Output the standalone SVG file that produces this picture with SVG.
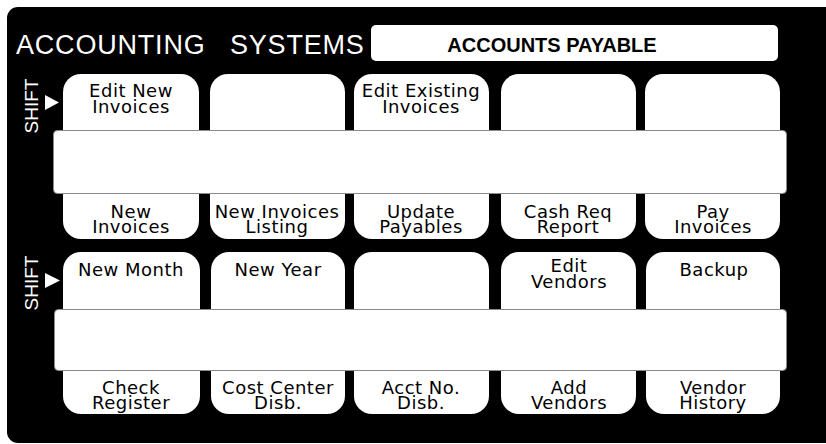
<svg xmlns="http://www.w3.org/2000/svg" width="826" height="444" viewBox="0 0 826 444">
<style>
.key{fill:#fff}
.strip{fill:#fff;stroke:#8a8a8a;stroke-width:1}
.lbl{font-family:"DejaVu Sans","Liberation Sans",sans-serif;font-size:18px;letter-spacing:0.5px;fill:#000;text-anchor:middle}
.shift{font-family:"Liberation Sans","Arial",sans-serif;font-size:19px;fill:#fff;text-anchor:middle}
.arrow{fill:#fff}
</style>
<rect x="0" y="0" width="826" height="444" fill="#fff"/>
<rect x="7" y="7" width="840" height="436" rx="11" fill="#000"/>
<g id="title">
<text x="16" y="54" font-family="'Liberation Sans',Arial,sans-serif" font-size="27" letter-spacing="0.8" fill="#fff"><tspan x="16">ACCOUNTING</tspan> <tspan x="230">SYSTEMS</tspan></text>
</g>
<g id="header">
<rect x="371" y="25" width="407" height="36" rx="5" fill="#fff"/>
<text x="552" y="52" font-family="'Liberation Sans',Arial,sans-serif" font-size="20" font-weight="bold" text-anchor="middle" fill="#000">ACCOUNTS PAYABLE</text>
</g>
<g id="shift1">
<text class="shift" transform="translate(38,106) rotate(-90)">SHIFT</text>
<polygon class="arrow" points="45,95 59,102.5 45,110"/>
</g>
<g id="shift2">
<text class="shift" transform="translate(38,283) rotate(-90)">SHIFT</text>
<polygon class="arrow" points="45,273 60,280.5 45,288"/>
</g>
<g id="key-r1-1"><rect class="key" x="63" y="74" width="136" height="165" rx="18"/>
<text class="lbl"><tspan x="131" y="97">Edit New</tspan><tspan x="131" y="113">Invoices</tspan></text>
<text class="lbl"><tspan x="131" y="218">New</tspan><tspan x="131" y="233">Invoices</tspan></text></g>
<g id="key-r1-2"><rect class="key" x="210" y="74" width="135" height="165" rx="18"/>
<text class="lbl"><tspan x="277" y="218">New Invoices</tspan><tspan x="277" y="233">Listing</tspan></text></g>
<g id="key-r1-3"><rect class="key" x="354" y="74" width="135" height="165" rx="18"/>
<text class="lbl"><tspan x="421" y="97">Edit Existing</tspan><tspan x="421" y="113">Invoices</tspan></text>
<text class="lbl"><tspan x="421" y="218">Update</tspan><tspan x="421" y="233">Payables</tspan></text></g>
<g id="key-r1-4"><rect class="key" x="501" y="74" width="135" height="165" rx="18"/>
<text class="lbl"><tspan x="568" y="218">Cash Req</tspan><tspan x="568" y="233">Report</tspan></text></g>
<g id="key-r1-5"><rect class="key" x="645" y="74" width="135" height="165" rx="18"/>
<text class="lbl"><tspan x="713" y="218">Pay</tspan><tspan x="713" y="233">Invoices</tspan></text></g>
<g id="key-r2-1"><rect class="key" x="63" y="252" width="137" height="162" rx="18"/>
<text class="lbl" x="131" y="276">New Month</text>
<text class="lbl"><tspan x="131" y="394">Check</tspan><tspan x="131" y="409">Register</tspan></text></g>
<g id="key-r2-2"><rect class="key" x="211" y="252" width="134" height="162" rx="18"/>
<text class="lbl" x="278" y="276">New Year</text>
<text class="lbl"><tspan x="278" y="394">Cost Center</tspan><tspan x="278" y="409">Disb.</tspan></text></g>
<g id="key-r2-3"><rect class="key" x="354" y="252" width="135" height="162" rx="18"/>
<text class="lbl"><tspan x="421" y="394">Acct No.</tspan><tspan x="421" y="409">Disb.</tspan></text></g>
<g id="key-r2-4"><rect class="key" x="501" y="252" width="135" height="162" rx="18"/>
<text class="lbl"><tspan x="569" y="272">Edit</tspan><tspan x="569" y="288">Vendors</tspan></text>
<text class="lbl"><tspan x="569" y="394">Add</tspan><tspan x="569" y="409">Vendors</tspan></text></g>
<g id="key-r2-5"><rect class="key" x="646" y="252" width="134" height="162" rx="18"/>
<text class="lbl" x="714" y="276">Backup</text>
<text class="lbl"><tspan x="713" y="394">Vendor</tspan><tspan x="713" y="409">History</tspan></text></g>
<g id="strip1"><rect class="strip" x="53.5" y="130.5" width="733" height="63" rx="4"/></g>
<g id="strip2"><rect class="strip" x="54.5" y="309.5" width="732" height="61" rx="4"/></g>
<g id="connectors"></g>
</svg>
